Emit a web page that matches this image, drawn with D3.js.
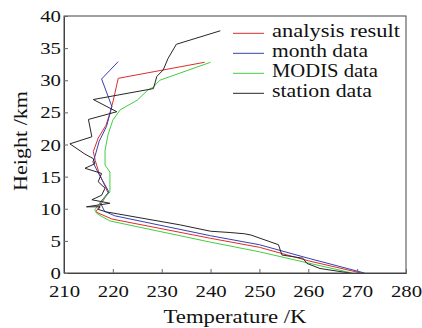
<!DOCTYPE html>
<html>
<head>
<meta charset="utf-8">
<script src="https://cdn.jsdelivr.net/npm/d3@7"></script>
<style>
  body { margin: 0; background: #fff; }
  svg { display: block; font-family: "Liberation Serif", serif; }
  svg text { font-family: "Liberation Serif", serif !important; }
</style>
</head>
<body>
<div id="chart"></div>
<script>
const width = 422, height = 328;
const margin = {top: 16, right: 16, bottom: 55, left: 64};

// ── data (temperature K, height km) ──
const seriesNames = ["analysis result", "month data", "MODIS data", "station data"];
const seriesColors = ["#dd2c2c", "#3640b4", "#3fcf3f", "#262626"];

const analysisT = [270.8, 260, 250, 240, 219.8, 216.5, 217.8, 219, 217.2, 216.4, 216, 217, 218.6, 219.4, 220.1, 221.1, 238.8];
const analysisH = [0, 1.9, 4.0, 5.4, 8.4, 9.5, 11, 12.5, 15.5, 17.5, 18.9, 21, 23, 24.9, 26.9, 30.3, 32.8];

const monthT = [271.5, 260, 250, 240, 220.4, 218.3, 217.4, 219.2, 217, 215.9, 216.2, 217.2, 218.7, 219.8, 217.7, 221.1];
const monthH = [0, 2.3, 4.4, 5.8, 8.9, 9.6, 11.0, 12.6, 15.6, 17.3, 17.8, 20.5, 22.8, 25.9, 30.2, 32.9];

const modisT = [269, 260, 250, 240, 219.4, 216.8, 216.3, 217, 219.4, 219.4, 218.4, 218.4, 219, 220, 221.5, 225, 227.2, 228.2, 229.6, 240];
const modisH = [0, 1.55, 3.3, 4.8, 8.1, 9.2, 9.8, 10.6, 12.6, 15.7, 16.8, 19.1, 21.5, 23.8, 25.4, 26.9, 28.5, 28.9, 30.0, 32.8];

const stationT = [268.5, 262.4, 259.7, 258.9, 254.6, 253.9, 248.3, 247, 244, 240, 233.7, 221, 218.7, 217, 217.4, 214.6, 219.4, 215.7, 217.7, 218.4, 217, 217.7, 214.3, 216.3, 216, 214.3, 211.2, 215.7, 215, 220.8, 216, 228.3, 229, 230.3, 231.3, 233, 242];
const stationH = [0, 0.7, 1.5, 2.3, 2.8, 4.4, 5.9, 6.1, 6.3, 6.5, 7.5, 9.2, 9.5, 9.9, 10.3, 10.3, 10.85, 11.4, 12.1, 13.2, 14.2, 15.5, 16.3, 17.0, 17.8, 18.5, 20.1, 21.2, 23.9, 25.1, 27.0, 28.7, 30.6, 31.6, 33.4, 35.6, 37.7];

const xTicks = [210, 220, 230, 240, 250, 260, 270, 280];
const yTicks = [0, 5, 10, 15, 20, 25, 30, 35, 40];

const series = [
  {T: analysisT, H: analysisH},
  {T: monthT, H: monthH},
  {T: modisT, H: modisH},
  {T: stationT, H: stationH}
];

const x = d3.scaleLinear().domain([210, 280]).range([margin.left, width - margin.right]);
const y = d3.scaleLinear().domain([0, 40]).range([height - margin.bottom, margin.top]);

const svg = d3.select("#chart").append("svg")
  .attr("width", width)
  .attr("height", height);

// data lines
const line = d3.line()
  .x(d => x(d[0]))
  .y(d => y(d[1]));

svg.append("g")
  .selectAll("path")
  .data(series)
  .join("path")
  .attr("fill", "none")
  .attr("stroke", (d, i) => seriesColors[i])
  .attr("stroke-width", 1)
  .attr("d", d => line(d.T.map((t, i) => [t, d.H[i]])));

// frame
svg.append("rect")
  .attr("x", x(210))
  .attr("y", y(40))
  .attr("width", x(280) - x(210))
  .attr("height", y(0) - y(40))
  .attr("fill", "none")
  .attr("stroke", "#444")
  .attr("stroke-width", 1);

// axes with inward ticks
const xAxis = svg.append("g")
  .attr("transform", `translate(0,${y(0)})`)
  .call(d3.axisBottom(x).tickValues(xTicks).tickSize(-4).tickPadding(12).tickFormat(d3.format("d")));

const yAxis = svg.append("g")
  .attr("transform", `translate(${x(210)},0)`)
  .call(d3.axisLeft(y).tickValues(yTicks).tickSize(-4).tickPadding(3).tickFormat(d3.format("d")));

// the original face is wider than Times, so stretch each label to its width
[xAxis, yAxis].forEach(a => {
  a.attr("font-family", "Liberation Serif");
  a.select(".domain").attr("stroke", "#444");
  a.selectAll(".tick line").attr("stroke", "#666");
  a.selectAll(".tick text")
    .attr("fill", "#111")
    .style("font-size", "17.5px")
    .attr("textLength", d => String(d).length * 10.4)
    .attr("lengthAdjust", "spacingAndGlyphs");
});

// axis titles
svg.append("text")
  .attr("x", (x(210) + x(280)) / 2)
  .attr("y", 323)
  .attr("text-anchor", "middle")
  .attr("fill", "#111")
  .style("font-size", "19px")
  .attr("textLength", 143)
  .attr("lengthAdjust", "spacingAndGlyphs")
  .text("Temperature /K");

svg.append("text")
  .attr("transform", `translate(27,${141}) rotate(-90)`)
  .attr("text-anchor", "middle")
  .attr("fill", "#111")
  .style("font-size", "19px")
  .attr("textLength", 100)
  .attr("lengthAdjust", "spacingAndGlyphs")
  .text("Height /km");

// legend
const legendWidths = [128, 96, 106, 100];
const legend = svg.append("g");
seriesNames.forEach((name, i) => {
  const by = 37.3 + i * 20;
  legend.append("line")
    .attr("x1", 233).attr("x2", 264)
    .attr("y1", by - 4).attr("y2", by - 4)
    .attr("stroke", seriesColors[i])
    .attr("stroke-width", 1);
  legend.append("text")
    .attr("x", 272)
    .attr("y", by)
    .attr("fill", "#111")
    .style("font-size", "19px")
    .attr("textLength", legendWidths[i])
    .attr("lengthAdjust", "spacingAndGlyphs")
    .text(name);
});
</script>
</body>
</html>
